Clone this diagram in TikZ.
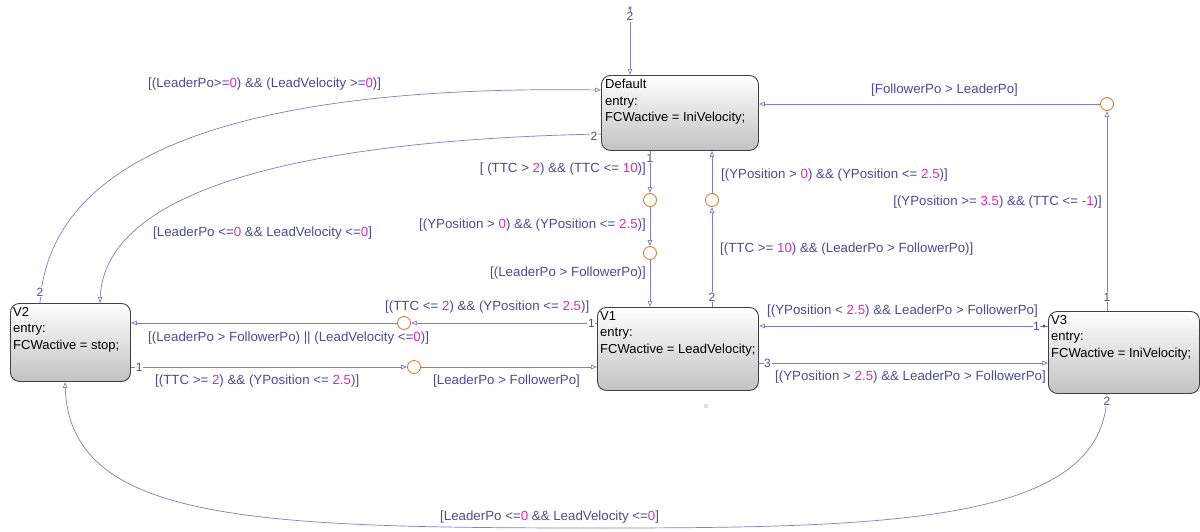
\documentclass[tikz,border=0pt]{standalone}
\usepackage{fontspec}
\setmainfont{Liberation Sans}
\usetikzlibrary{arrows.meta,calc}
\definecolor{lnc}{RGB}{125,125,205}
\definecolor{txc}{RGB}{75,75,155}
\definecolor{mgc}{RGB}{225,40,195}
\definecolor{jcc}{RGB}{215,130,55}
\newcommand{\mgn}[1]{\textcolor{mgc}{#1}}
\begin{document}
\begin{tikzpicture}[x=1pt,y=-1pt,
 state/.style={draw=black!75, line width=0.9pt, rounded corners=9pt, top color=white, bottom color=black!24, anchor=north west, inner sep=0pt},
 stxt/.style={anchor=north west, align=left, inner sep=0pt, font=\fontsize{13}{16.5}\selectfont, text=black},
 junc/.style={circle, draw=jcc, line width=0.9pt, fill=white, minimum size=13pt, inner sep=0pt},
 tr/.style={draw=lnc, line width=0.7pt, -{Triangle[open,length=6pt,width=4.5pt]}},
 lab/.style={text=txc, font=\fontsize{13.3}{15}\selectfont, inner sep=0pt},
 num/.style={text=txc, font=\fontsize{12}{12}\selectfont, inner sep=0.6pt, fill=white}]
\fill[white] (0,0) rectangle (1200,531);
\useasboundingbox (0,0) rectangle (1200,531);

% states
\node[state, minimum width=157pt, minimum height=75pt] (D) at (601,75) {};
\node[stxt] (Dt) at ($(D.north west)+(4,4)$) {Default\\entry:\\FCWactive = IniVelocity;};
\node[state, minimum width=120pt, minimum height=78pt] (V2) at (10,303) {};
\node[stxt] (V2t) at ($(V2.north west)+(3,4)$) {V2\\entry:\\FCWactive = stop;};
\node[state, minimum width=161pt, minimum height=83pt] (V1) at (597,307) {};
\node[stxt] (V1t) at ($(V1.north west)+(3,4)$) {V1\\entry:\\FCWactive = LeadVelocity;};
\node[state, minimum width=151pt, minimum height=82pt] (V3) at (1048,311) {};
\node[stxt] (V3t) at ($(V3.north west)+(3,4)$) {V3\\entry:\\FCWactive = IniVelocity;};

% junctions
\node[junc] (J1) at (650,200) {};
\node[junc] (J2) at (650,253) {};
\node[junc] (J3) at (712,200) {};
\node[junc] (J4) at (1107,104) {};
\node[junc] (J5) at (404,323) {};
\node[junc] (J6) at (414,367) {};

% helper coordinates
\coordinate (i0) at (630,8);
\coordinate (c40) at (40,0);
\coordinate (c100) at (100,0);
\coordinate (c65) at (65,0);
\coordinate (c1107) at (1107,0);
\coordinate (c90) at (0,90);
\coordinate (c134) at (0,134);
\coordinate (c326) at (0,326);
\coordinate (c363) at (0,363);
\coordinate (bm) at (600,528);

% initial transition
\fill[lnc] (i0) circle (1.8);
\draw[tr] (i0) -- (D.north -| i0) node[num, pos=0.13] {2};

% Default -> V1 via junctions
\draw[tr] (D.south -| J1) -- (J1.north) node[num, pos=0.18] {1};
\draw[tr] (J1.south) -- (J2.north);
\draw[tr] (J2.south) -- (V1.north -| J2);
% V1 -> Default via junction
\draw[tr] (V1.north -| J3) -- (J3.south) node[num, pos=0.1] {2};
\draw[tr] (J3.north) -- (D.south -| J3);
% V3 -> Default via junction
\draw[tr] (V3.north -| J4) -- (J4.south) node[num, pos=0.07] {1};
\draw[tr] (J4.west) -- (D.east |- J4);
% V1 -> V2
\draw[tr] (V1.west |- J5) -- (J5.east) node[num, pos=0.03] {1};
\draw[tr] (J5.west) -- (V2.east |- J5);
% V2 -> V1
\draw[tr] (V2.east |- J6) -- (J6.west) node[num, pos=0.03] {1};
\draw[tr] (J6.east) -- (V1.west |- J6);
% V3 -> V1
\draw[tr] (V3.west |- c326) -- (V1.east |- c326) node[num, pos=0.04] (n1d) {1\hspace{4pt}};
\fill[txc] ($(V3.west |- c326)+(-4,0)$) circle (1.6);
% V1 -> V3
\draw[tr] (V1.east |- c363) -- (V3.west |- c363) node[num, pos=0.03] {3};

% curves
\draw[tr] (V2.north -| c40) .. controls (50,150) and (250,85) .. (D.west |- c90);
\node[num] (n2a) at (40,292) {2};
\draw[tr] (D.west |- c134) .. controls (300,140) and (105,190) .. (V2.north -| c100);
\node[num] (n2b) at (594,136) {2};
\draw[draw=lnc, line width=0.7pt] (V3.south -| c1107) .. controls (1105,521) and (900,528) .. (bm);
\draw[tr] (bm) .. controls (250,528) and (70,521) .. (V2.south -| c65);
\node[num] (n2c) at (1107,401) {2};

% labels
\node[lab, anchor=west] (L1) at (148,84) {[(LeaderPo>=\mgn{0}) \&\& (LeadVelocity >=\mgn{0})]};
\node[lab, anchor=west] (L2) at (871,90) {[FollowerPo > LeaderPo]};
\node[lab, anchor=west] (L3) at (721,175) {[(YPosition > \mgn{0}) \&\& (YPosition <= \mgn{2.5})]};
\node[lab, anchor=east] (L4) at (1102,202) {[(YPosition >= \mgn{3.5}) \&\& (TTC <= \mgn{-1})]};
\node[lab, anchor=west] (L5) at (720,249) {[(TTC >= \mgn{10}) \&\& (LeaderPo > FollowerPo)]};
\node[lab, anchor=west] (L6) at (767,311) {[(YPosition < \mgn{2.5}) \&\& LeaderPo > FollowerPo]};
\node[lab, anchor=west] (L7) at (775,377) {[(YPosition > \mgn{2.5}) \&\& LeaderPo > FollowerPo]};
\node[lab, anchor=east] (L8) at (646,169) {[ (TTC > \mgn{2}) \&\& (TTC <= \mgn{10})]};
\node[lab, anchor=east] (L9) at (646,225) {[(YPosition > \mgn{0}) \&\& (YPosition <= \mgn{2.5})]};
\node[lab, anchor=east] (L10) at (646,273) {[(LeaderPo > FollowerPo)]};
\node[lab, anchor=west] (L11) at (153,233) {[LeaderPo <=\mgn{0} \&\& LeadVelocity <=\mgn{0}]};
\node[lab, anchor=west] (L12) at (385,307) {[(TTC <= \mgn{2}) \&\& (YPosition <= \mgn{2.5})]};
\node[lab, anchor=west] (L13) at (148,338) {[(LeaderPo > FollowerPo) || (LeadVelocity <=\mgn{0})]};
\node[lab, anchor=west] (L14) at (155,381) {[(TTC >= \mgn{2}) \&\& (YPosition <= \mgn{2.5})]};
\node[lab, anchor=west] (L15) at (433,381) {[LeaderPo > FollowerPo]};
\node[lab, anchor=west] (L16) at (440,517) {[LeaderPo <=\mgn{0} \&\& LeadVelocity <=\mgn{0}]};

% small artifact
\fill[black!12] (704,404) rectangle (708,408);
\end{tikzpicture}
\end{document}
